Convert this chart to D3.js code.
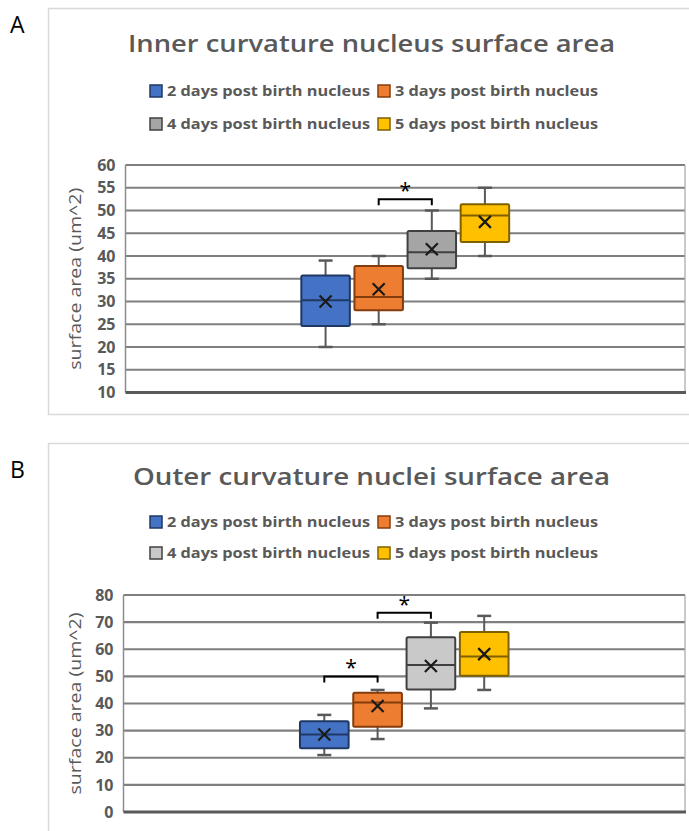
<!DOCTYPE html>
<html>
<head>
<meta charset="utf-8">
<script src="https://cdn.jsdelivr.net/npm/d3@7"></script>
<style>
  body { margin: 0; background: #fff; }
  svg { display: block; }
  text { font-family: "Open Sans", "Noto Sans", sans-serif; }
</style>
</head>
<body>
<svg id="chart" width="689" height="831"></svg>
<script>
// series names and colours
const seriesNames = ["2 days post birth nucleus", "3 days post birth nucleus", "4 days post birth nucleus", "5 days post birth nucleus"]
const fillsA = ["#4472c4", "#ed7d31", "#a5a5a5", "#ffc000"]
const fillsB = ["#4472c4", "#ed7d31", "#c9c9c9", "#ffc000"]
const strokes = ["#1f3864", "#843c0c", "#404040", "#7f6000"]

// panel A: inner curvature
const innerMin = [20, 25, 35, 40]
const innerQ1 = [24.6, 28.1, 37.3, 43.1]
const innerMedian = [30.3, 31, 40.8, 48.9]
const innerQ3 = [35.7, 37.8, 45.5, 51.4]
const innerMax = [39, 40, 50, 55]
const innerMean = [30, 32.7, 41.5, 47.5]
const innerTicks = [10, 15, 20, 25, 30, 35, 40, 45, 50, 55, 60]
const innerBrackets = [{ from: 1, to: 2, value: 52.5 }]

// panel B: outer curvature
const outerMin = [21, 26.9, 38.2, 45]
const outerQ1 = [23.5, 31.4, 45.2, 50.2]
const outerMedian = [28.6, 40.4, 54.2, 57.3]
const outerQ3 = [33.5, 44, 64.4, 66.4]
const outerMax = [35.8, 45, 69.8, 72.3]
const outerMean = [28.6, 39.1, 53.8, 58.2]
const outerTicks = [0, 10, 20, 30, 40, 50, 60, 70, 80]
const outerBrackets = [{ from: 0, to: 1, value: 50 }, { from: 1, to: 2, value: 73.5 }]

const svg = d3.select("#chart")

function drawPanel(opts) {
    let g = svg.append("g")

    // outer frame
    g.append("rect")
        .attr("x", 48.5).attr("y", opts.frameTop + 0.5)
        .attr("width", 700).attr("height", opts.frameHeight)
        .attr("fill", "#fff")
        .attr("stroke", "#d9d9d9")
        .attr("stroke-width", 1.5)

    // panel letter
    g.append("text")
        .attr("x", 10).attr("y", opts.letterY)
        .attr("font-size", 23)
        .attr("fill", "#000")
        .text(opts.letter)

    // title
    g.append("text")
        .attr("x", opts.titleX).attr("y", opts.titleY)
        .attr("font-size", 24)
        .attr("font-weight", 600)
        .attr("fill", "#595959")
        .attr("textLength", opts.titleWidth)
        .attr("lengthAdjust", "spacingAndGlyphs")
        .text(opts.title)

    // legend, 2 x 2
    let legendX = [150, 378]
    seriesNames.forEach((name, i) => {
        let lx = legendX[i % 2]
        let ly = opts.legendY[Math.floor(i / 2)]
        g.append("rect")
            .attr("x", lx).attr("y", ly - 6)
            .attr("width", 12).attr("height", 12)
            .attr("fill", opts.fills[i])
            .attr("stroke", strokes[i])
            .attr("stroke-width", 1.5)
        g.append("text")
            .attr("x", lx + 17).attr("y", ly + 5)
            .attr("font-size", 14)
            .attr("font-weight", 700)
            .attr("fill", "#595959")
            .attr("textLength", 203)
            .attr("lengthAdjust", "spacingAndGlyphs")
            .text(name)
    })

    let left = opts.plotLeft, right = 685
    let y = d3.scaleLinear()
        .domain(d3.extent(opts.ticks))
        .range([opts.plotBottom, opts.plotTop])

    // one category, four series inside it
    let x0 = d3.scaleBand().domain(["all"]).range([left, right])
        .paddingInner(0).paddingOuter(0.846)
    let x1 = d3.scaleBand().domain(d3.range(4)).range([0, x0.bandwidth()])
        .paddingInner(0.087).paddingOuter(0)

    // gridlines
    g.selectAll(".grid")
        .data(opts.ticks.slice(1))
        .join("line")
        .attr("class", "grid")
        .attr("x1", left).attr("x2", right)
        .attr("y1", d => y(d)).attr("y2", d => y(d))
        .attr("stroke", "#7f7f7f")
        .attr("stroke-width", 2.2)

    // plot sides and base
    g.append("line")
        .attr("x1", left).attr("x2", left)
        .attr("y1", opts.plotTop).attr("y2", opts.plotBottom)
        .attr("stroke", "#8c8c8c").attr("stroke-width", 1.5)
    g.append("line")
        .attr("x1", right).attr("x2", right)
        .attr("y1", opts.plotTop).attr("y2", opts.plotBottom)
        .attr("stroke", "#a6a6a6").attr("stroke-width", 1.2)
    g.append("line")
        .attr("x1", left).attr("x2", right + 1)
        .attr("y1", opts.plotBottom).attr("y2", opts.plotBottom)
        .attr("stroke", "#595959").attr("stroke-width", 3)

    // y axis labels
    let axis = d3.axisLeft(y).tickValues(opts.ticks).tickSize(0).tickPadding(10)
    let ax = g.append("g").attr("transform", `translate(${left},0)`).call(axis)
    ax.select(".domain").remove()
    ax.selectAll("text")
        .attr("font-family", "'Open Sans', sans-serif")
        .attr("font-size", 16)
        .attr("font-weight", 700)
        .attr("fill", "#595959")

    g.append("text")
        .attr("transform", `translate(81,${(opts.plotTop + opts.plotBottom) / 2}) rotate(-90)`)
        .attr("text-anchor", "middle")
        .attr("font-size", 17)
        .attr("fill", "#595959")
        .attr("textLength", 182)
        .attr("lengthAdjust", "spacingAndGlyphs")
        .text("surface area (um^2)")

    let cx = i => x0("all") + x1(i) + x1.bandwidth() / 2
    let bw = x1.bandwidth()
    let idx = d3.range(4)

    // whiskers
    g.selectAll(".whisker")
        .data(idx)
        .join("line")
        .attr("x1", cx).attr("x2", cx)
        .attr("y1", i => y(opts.max[i])).attr("y2", i => y(opts.min[i]))
        .attr("stroke", "#595959").attr("stroke-width", 2)
    ;["max", "min"].forEach(k => {
        g.selectAll(".cap-" + k)
            .data(idx)
            .join("line")
            .attr("x1", i => cx(i) - 7).attr("x2", i => cx(i) + 7)
            .attr("y1", i => y(opts[k][i])).attr("y2", i => y(opts[k][i]))
            .attr("stroke", "#595959").attr("stroke-width", 2.5)
    })

    // boxes
    g.selectAll(".box")
        .data(idx)
        .join("rect")
        .attr("x", i => cx(i) - bw / 2)
        .attr("y", i => y(opts.q3[i]))
        .attr("width", bw)
        .attr("height", i => y(opts.q1[i]) - y(opts.q3[i]))
        .attr("fill", i => opts.fills[i])
        .attr("stroke", i => strokes[i])
        .attr("stroke-width", 2)
        .attr("rx", 1.5)

    // medians
    g.selectAll(".median")
        .data(idx)
        .join("line")
        .attr("x1", i => cx(i) - bw / 2).attr("x2", i => cx(i) + bw / 2)
        .attr("y1", i => y(opts.median[i])).attr("y2", i => y(opts.median[i]))
        .attr("stroke", i => strokes[i]).attr("stroke-width", 2)

    // mean markers (x)
    let s = 6
    g.selectAll(".mean")
        .data(idx)
        .join("path")
        .attr("d", i => {
            let mx = cx(i), my = y(opts.mean[i])
            return `M${mx - s},${my - s}L${mx + s},${my + s}M${mx - s},${my + s}L${mx + s},${my - s}`
        })
        .attr("stroke", "#1a1a1a").attr("stroke-width", 2.2)

    // significance brackets
    opts.brackets.forEach(b => {
        let xa = cx(b.from), xb = cx(b.to), by = y(b.value)
        g.append("path")
            .attr("d", `M${xa},${by + 6}V${by}H${xb}V${by + 6}`)
            .attr("fill", "none")
            .attr("stroke", "#000").attr("stroke-width", 2)
        g.append("text")
            .attr("x", (xa + xb) / 2).attr("y", by - 1)
            .attr("text-anchor", "middle")
            .attr("font-size", 21)
            .attr("fill", "#000")
            .text("*")
    })
}

drawPanel({
    letter: "A", letterY: 33, frameTop: 8, frameHeight: 406,
    title: "Inner curvature nucleus surface area", titleX: 128, titleY: 52, titleWidth: 487,
    legendY: [91, 124],
    fills: fillsA,
    plotLeft: 125.5, plotTop: 165, plotBottom: 392.5,
    ticks: innerTicks,
    min: innerMin, q1: innerQ1, median: innerMedian, q3: innerQ3, max: innerMax, mean: innerMean,
    brackets: innerBrackets
})

drawPanel({
    letter: "B", letterY: 478, frameTop: 443, frameHeight: 400,
    title: "Outer curvature nuclei surface area", titleX: 133, titleY: 485, titleWidth: 477,
    legendY: [522, 553],
    fills: fillsB,
    plotLeft: 123.5, plotTop: 595, plotBottom: 812,
    ticks: outerTicks,
    min: outerMin, q1: outerQ1, median: outerMedian, q3: outerQ3, max: outerMax, mean: outerMean,
    brackets: outerBrackets
})
</script>
</body>
</html>
